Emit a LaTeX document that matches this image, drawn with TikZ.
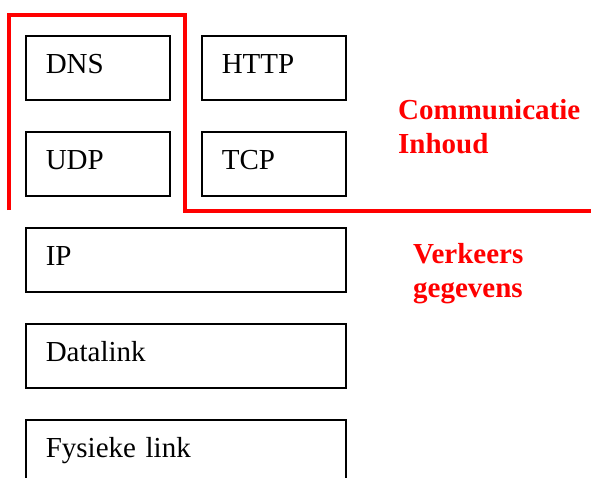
\documentclass[tikz,border=0pt]{standalone}
\usepackage{fontspec}
\setmainfont{Liberation Serif}
\begin{document}
\begin{tikzpicture}[x=1pt,y=-1pt,
  layer/.style={draw=black, line width=1.6pt, rectangle, anchor=north west,
    minimum height=64pt, inner xsep=20pt, inner ysep=0pt,
    text height=20pt, text depth=8pt, align=left,
    font=\fontsize{29}{34}\selectfont},
  narrow/.style={layer, minimum width=144pt, text width=104pt},
  wide/.style={layer, minimum width=320pt, text width=280pt},
  scope line/.style={draw=red, line width=3.4pt, line join=miter},
  zone/.style={text=red, anchor=base west, inner sep=0pt, align=left,
    font=\bfseries\fontsize{29}{34}\selectfont}]
  \useasboundingbox (0,0) rectangle (591,477);
  \clip (0,0) rectangle (591,477);

  % protocol stack
  \node[narrow] (dns)  at (25,35)  {DNS};
  \node[narrow] (udp)  at (25,131) {UDP};
  \node[narrow] (http) at (201,35) {HTTP};
  \node[narrow] (tcp)  at (201,131) {TCP};
  \node[wide]   (ip)   at (25,227) {IP};
  \node[wide]   (dl)   at (25,323) {Datalink};
  \node[wide]   (phys) at (25,419) {Fysieke link};

  % boundary between content and traffic data
  \coordinate (s0) at (9,210);
  \coordinate (s1) at (9,15);
  \coordinate (s2) at (185,15);
  \coordinate (s3) at (185,211);
  \coordinate (s4) at (593,211);
  \draw[scope line] (s0) -- (s1) -- (s2) -- (s3) -- (s4);

  % anchored on the baseline of the last line
  \node[zone] (content) at (398,153) {Communicatie\\Inhoud};
  \node[zone] (traffic) at (413,297) {Verkeers\\gegevens};
\end{tikzpicture}
\end{document}
